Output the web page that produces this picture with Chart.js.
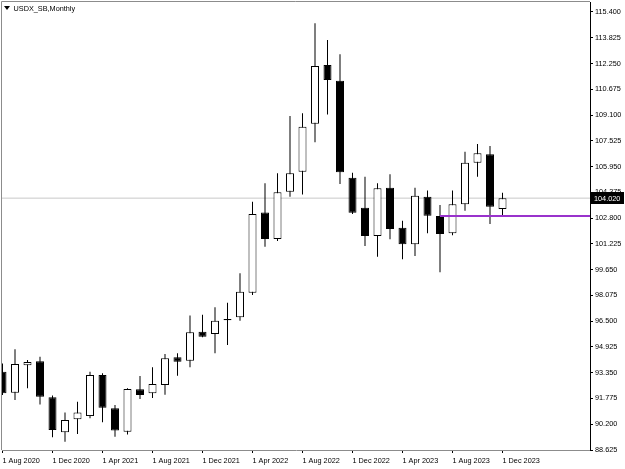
<!DOCTYPE html>
<html><head><meta charset="utf-8">
<script src="https://cdn.jsdelivr.net/npm/chart.js@4.4.1/dist/chart.umd.min.js"></script>
<style>html,body{margin:0;padding:0;background:#fff;}#wrap{width:625px;height:469px;}</style>
</head><body><div id="wrap"><canvas id="c" width="625" height="469"></canvas></div>
<script>
const title = 'USDX_SB,Monthly';
const months = ['Aug 2020','Sep 2020','Oct 2020','Nov 2020','Dec 2020',
  'Jan 2021','Feb 2021','Mar 2021','Apr 2021','May 2021','Jun 2021','Jul 2021','Aug 2021','Sep 2021','Oct 2021','Nov 2021','Dec 2021',
  'Jan 2022','Feb 2022','Mar 2022','Apr 2022','May 2022','Jun 2022','Jul 2022','Aug 2022','Sep 2022','Oct 2022','Nov 2022','Dec 2022',
  'Jan 2023','Feb 2023','Mar 2023','Apr 2023','May 2023','Jun 2023','Jul 2023','Aug 2023','Sep 2023','Oct 2023','Nov 2023','Dec 2023'];
const open  = [93.41,92.13,93.80,94.05,91.85, 89.71,90.50,90.70,93.21,91.17,89.74,92.34,92.09,92.60,94.29,94.08,95.86,
  95.72,96.63,96.74,98.24,103.15,101.52,104.41,105.64,108.57,112.16,111.20,105.27,
  103.44,101.71,104.66,102.21,101.20,104.11,102.93,101.87,103.64,106.19,106.70,103.36];
const high  = [93.92,94.78,94.13,94.33,91.95, 90.91,91.58,93.41,93.31,91.38,92.40,93.15,93.68,94.49,94.54,96.84,96.90,
  97.35,97.63,99.43,103.80,104.93,105.54,109.04,109.21,114.71,113.69,112.81,105.57,
  105.33,104.93,105.48,102.64,104.66,104.48,103.60,104.48,106.86,107.33,107.21,104.35];
const low   = [91.99,91.68,92.40,91.40,89.40, 89.13,89.60,90.56,90.32,89.44,89.58,91.75,91.80,92.00,93.17,93.68,95.51,
  94.54,95.04,96.53,98.10,101.05,101.40,104.10,104.25,107.43,109.14,104.88,103.05,
  101.10,100.44,101.50,100.28,100.48,101.87,99.49,101.75,103.25,105.33,102.44,102.99];
const close = [92.09,93.88,94.00,91.88,89.85, 90.46,90.91,93.21,91.21,89.81,92.35,91.99,92.66,94.23,94.02,95.82,95.55,
  96.53,96.55,98.30,103.05,101.52,104.38,105.54,108.39,112.10,111.24,105.60,103.13,
  101.71,104.62,102.13,101.20,104.17,102.95,101.83,103.64,106.19,106.76,103.50,104.02];
const xTickIndices = [0,4,8,12,16,20,24,28,32,36,40];
const xTickLabels = ['1 Aug 2020','1 Dec 2020','1 Apr 2021','1 Aug 2021','1 Dec 2021','1 Apr 2022','1 Aug 2022','1 Dec 2022','1 Apr 2023','1 Aug 2023','1 Dec 2023'];
const yTickValues = [88.625,90.200,91.775,93.350,94.925,96.500,98.075,99.650,101.225,102.800,104.375,105.950,107.525,109.100,110.675,112.250,113.825,115.400];
const currentPrice = 104.02;
const levelValue = 102.93;
const levelStartIndex = 35;

const X_MIN = -0.04, X_MAX = 47.0, Y_MIN = 88.625, Y_MAX = 116.01;
const FONT_FAMILY = "'Liberation Sans', Arial, sans-serif";
const FONT = {family: FONT_FAMILY, size: 7.3};

const wickData = months.map((m, i) => ({x: i, y: [low[i], high[i]]}));
const bodyData = months.map((m, i) => ({x: i, y: [open[i], close[i]]}));
const bodyFill = months.map((m, i) => close[i] >= open[i] ? '#ffffff' : '#000000');

const decor = {
  id: 'decor',
  afterDraw(chart) {
    const {ctx, chartArea: a, scales: {y}} = chart;
    ctx.save();
    ctx.strokeStyle = '#8c8c8c';
    ctx.lineWidth = 1;
    ctx.beginPath();
    ctx.moveTo(a.left - 0.5, a.bottom);
    ctx.lineTo(a.left - 0.5, a.top - 0.5);
    ctx.lineTo(a.right, a.top - 0.5);
    ctx.stroke();
    // title
    ctx.fillStyle = '#000';
    ctx.beginPath();
    ctx.moveTo(4, 6); ctx.lineTo(10, 6); ctx.lineTo(7, 10); ctx.closePath();
    ctx.fill();
    ctx.font = FONT.size + 'px ' + FONT_FAMILY;
    ctx.textBaseline = 'middle';
    ctx.textAlign = 'left';
    ctx.fillText(title, 13.5, 9);
    // price label
    const py = Math.round(y.getPixelForValue(currentPrice));
    ctx.fillStyle = '#000';
    ctx.fillRect(a.right + 1, py - 6, 33, 12);
    ctx.fillStyle = '#fff';
    ctx.fillText(currentPrice.toFixed(3), a.right + 4, py + 0.5);
    ctx.restore();
  }
};

new Chart(document.getElementById('c'), {
  type: 'bar',
  data: {
    datasets: [
      {type: 'line', data: [{x: X_MIN, y: currentPrice}, {x: X_MAX, y: currentPrice}], borderColor: '#c8c8c8', borderWidth: 1, pointRadius: 0, order: 3, clip: 0},
      {data: wickData, backgroundColor: '#000', borderWidth: 0, barThickness: 1, grouped: false, inflateAmount: 0, order: 2, clip: 0},
      {data: bodyData, backgroundColor: bodyFill, borderColor: '#000', borderWidth: 1, borderSkipped: false, barThickness: 8, grouped: false, inflateAmount: 0, order: 1, clip: 0},
      {type: 'line', data: [{x: levelStartIndex, y: levelValue}, {x: X_MAX, y: levelValue}], borderColor: '#9932CC', borderWidth: 2, pointRadius: 0, order: 0, clip: 0}
    ]
  },
  options: {
    responsive: false,
    animation: false,
    devicePixelRatio: 1,
    events: [],
    layout: {padding: {left: 2, top: 2, right: 0, bottom: 0}},
    plugins: {legend: {display: false}, tooltip: {enabled: false}},
    scales: {
      x: {
        type: 'linear', min: X_MIN, max: X_MAX, offset: false,
        afterBuildTicks: s => { s.ticks = xTickIndices.map(v => ({value: v})); },
        afterFit: s => { s.height = 19; s.paddingLeft = 0; s.paddingRight = 0; },
        ticks: {autoSkip: false, maxRotation: 0, minRotation: 0, align: 'start', padding: 4, color: '#000', font: FONT,
          callback: (v, i) => xTickLabels[i]},
        grid: {display: true, drawOnChartArea: false, drawTicks: true, tickLength: 3, color: '#000', offset: false},
        border: {display: true, color: '#8c8c8c', width: 1}
      },
      y: {
        type: 'linear', position: 'right', min: Y_MIN, max: Y_MAX, beginAtZero: false,
        afterBuildTicks: s => { s.ticks = yTickValues.map(v => ({value: v})); },
        afterFit: s => { s.width = 35; s.paddingTop = 0; s.paddingBottom = 0; },
        ticks: {autoSkip: false, padding: 2, color: '#000', font: FONT, callback: v => Number(v).toFixed(3)},
        grid: {display: true, drawOnChartArea: false, drawTicks: true, tickLength: 3, color: '#000'},
        border: {display: true, color: '#000', width: 1}
      }
    }
  },
  plugins: [decor]
});
</script></body></html>
